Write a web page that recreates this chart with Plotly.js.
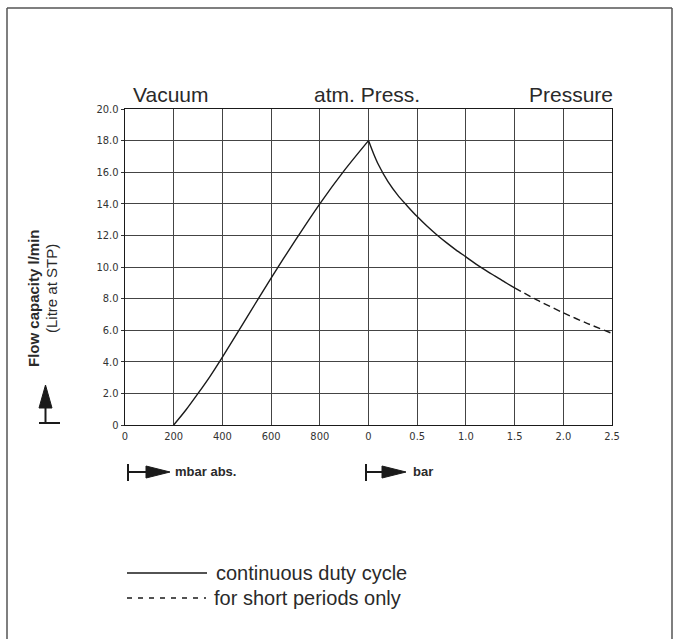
<!DOCTYPE html>
<html>
<head>
<meta charset="utf-8">
<script src="https://cdn.plot.ly/plotly-3.0.1.min.js"></script>
<style>html,body{margin:0;padding:0;background:#fff;}#chart{width:676px;height:639px;}</style>
</head>
<body>
<div id="chart"></div>
<script>
// ---- data ----
const xTickLabels = ['0','200','400','600','800','0','0.5','1.0','1.5','2.0','2.5'];
const yTickValues = [0,2,4,6,8,10,12,14,16,18,20];
const yTickLabels = ['0','2.0','4.0','6.0','8.0','10.0','12.0','14.0','16.0','18.0','20.0'];

// vacuum side (mbar abs.)
const vacMbar = [200,250,300,350,400,500,600,700,800,900,1000];
const vacFlow = [0,0.95,2.0,3.1,4.3,6.8,9.3,11.7,14.0,16.1,18.0];

// pressure side (bar), continuous duty cycle
const presBar  = [0,0.05,0.1,0.2,0.3,0.4,0.5,0.6,0.7,0.8,0.9,1.0,1.1,1.2,1.3,1.4,1.5];
const presFlow = [18.0,17.2,16.5,15.4,14.55,13.85,13.19,12.59,12.04,11.54,11.07,10.64,10.2,9.8,9.42,9.04,8.68];

// pressure side (bar), short periods only
const shortBar  = [1.5,1.75,2.0,2.25,2.5];
const shortFlow = [8.68,7.85,7.1,6.42,5.8];

// axis position mapping (shared x axis: 0..5 vacuum, 5..10 pressure)
const posMbar = m => m/200;
const posBar = b => 5 + b*2;

// ---- layout helpers (pixel -> paper) ----
const L=125, R=612, T=109, B=425;
const px = x => (x-L)/(R-L);
const py = y => (B-y)/(B-T);

const lineStyle = {color:'#1a1a1a', width:1.4, shape:'spline', smoothing:0.8};

const traces = [
  {x: vacMbar.map(posMbar), y: vacFlow, mode:'lines', line: lineStyle, hoverinfo:'skip'},
  {x: presBar.map(posBar), y: presFlow, mode:'lines', line: lineStyle, hoverinfo:'skip'},
  {x: shortBar.map(posBar), y: shortFlow, mode:'lines', line: Object.assign({}, lineStyle, {dash:'7px,4px'}), hoverinfo:'skip'}
];

const textCol = '#2a2a2a';
const sans = 'Liberation Sans, Arial, sans-serif';

function ann(text, x, y, xanchor, size, extra){
  return Object.assign({text:text, xref:'paper', yref:'paper', x:px(x), y:py(y),
    xanchor:xanchor, yanchor:'middle', showarrow:false,
    font:{family:sans, size:size, color:textCol}}, extra||{});
}

const annotations = [
  ann('Vacuum', 131, 94.5, 'left', 21),
  ann('atm. Press.', 367, 94.5, 'center', 21),
  ann('Pressure', 615, 94.5, 'right', 21),
  ann('<b>Flow capacity l/min</b>', 33, 298, 'center', 15, {textangle:-90}),
  ann('(Litre at STP)', 51, 289, 'center', 15, {textangle:-90}),
  ann('<b>mbar abs.</b>', 173, 472, 'left', 13),
  ann('<b>bar</b>', 411, 472, 'left', 13),
  ann('continuous duty cycle', 214, 573, 'left', 20),
  ann('for short periods only', 212, 598, 'left', 20)
];

function seg(x0,y0,x1,y1,w,col,dash){
  return {type:'line', xref:'paper', yref:'paper', x0:px(x0), y0:py(y0), x1:px(x1), y1:py(y1),
    line:{color:col||'#1a1a1a', width:w||1.5, dash:dash||'solid'}};
}
function tri(pts){
  const p = pts.map((q,i)=> (i?'L':'M') + px(q[0]) + ',' + py(q[1])).join(' ') + ' Z';
  return {type:'path', xref:'paper', yref:'paper', path:p, fillcolor:'#1a1a1a', line:{color:'#1a1a1a', width:1}};
}

const shapes = [
  // outer frame (open at bottom)
  seg(7,8,672,8,1.5,'#555'),
  seg(7,8,7,650,1.5,'#555'),
  seg(672,8,672,650,1.5,'#555'),
  // up arrow beside y title
  seg(39,423,60,423,2),
  seg(45.5,423,45.5,400,2),
  tri([[39,408],[52,408],[45.5,385]]),
  // mbar arrow
  seg(128,464,128,481,2),
  seg(128,472,150,472,2),
  tri([[146,466],[170,472],[146,478]]),
  // bar arrow
  seg(366,464,366,481,2),
  seg(366,472,386,472,2),
  tri([[382,466],[406,472],[382,478]]),
  // legend samples
  seg(127,573,207,573,1.3),
  seg(127,598,206,598,1.3,'#1a1a1a','5px,6px')
];

const tickFont = {family:'Liberation Sans Narrow, DejaVu Sans Condensed, Liberation Mono, monospace', size:11, color:'#333'};

const layout = {
  width:676, height:639,
  margin:{l:L, r:676-R, t:T, b:639-B, pad:0},
  paper_bgcolor:'#fff', plot_bgcolor:'#fff',
  showlegend:false,
  xaxis:{range:[0,10], tickmode:'array', tickvals:xTickLabels.map((_,i)=>i), ticktext:xTickLabels,
    showgrid:true, gridcolor:'#444', gridwidth:1, zeroline:false,
    showline:true, linecolor:'#1a1a1a', linewidth:1.3, mirror:true,
    ticks:'', tickfont:tickFont, fixedrange:true},
  yaxis:{range:[0,20], tickmode:'array', tickvals:yTickValues, ticktext:yTickLabels,
    showgrid:true, gridcolor:'#444', gridwidth:1, zeroline:false,
    showline:true, linecolor:'#1a1a1a', linewidth:1.3, mirror:true,
    ticks:'outside', ticklen:3, tickcolor:'#333', tickfont:tickFont, fixedrange:true},
  annotations:annotations,
  shapes:shapes
};

Plotly.newPlot('chart', traces, layout, {staticPlot:true, displayModeBar:false});
</script>
</body>
</html>
